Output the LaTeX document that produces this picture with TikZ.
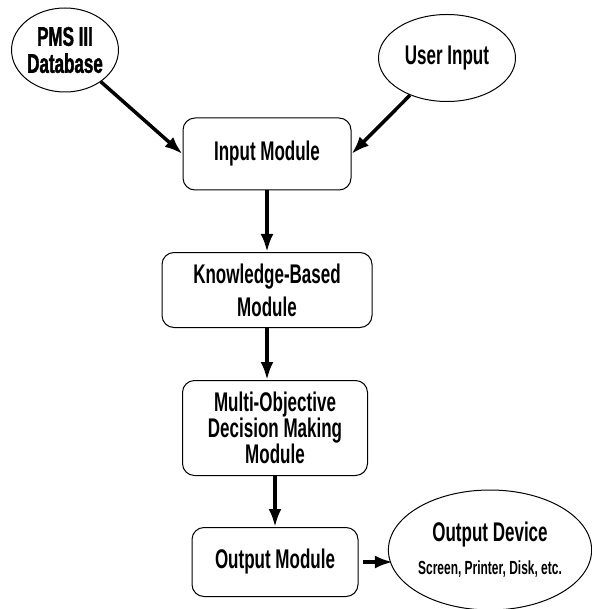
\documentclass[tikz,border=0pt]{standalone}
\usepackage{fontspec}
\setmainfont{Liberation Sans}[FakeStretch=0.63]
\usetikzlibrary{shapes.geometric,arrows.meta}

\tikzset{
 module/.style={draw, line width=1pt, rounded corners=12pt, align=center, inner sep=0pt,
   font=\bfseries\fontsize{27}{24}\selectfont},
 source/.style={draw, line width=1pt, ellipse, align=center, inner sep=0pt,
   font=\bfseries\fontsize{27}{27}\selectfont},
 flow/.style={line width=3.5pt, -{Latex[length=18pt,width=13pt]}}
}

\begin{document}
\begin{tikzpicture}[x=1pt,y=-1pt]
\useasboundingbox (0,0) rectangle (591,609);

\node[source, minimum width=106pt, minimum height=84pt] (pms) at (65,50)
  {\addfontfeature{FakeBold=1.5}PMS III\\\addfontfeature{FakeBold=1.5}Database};
\node[source, minimum width=137pt, minimum height=87pt] (user) at (447,58) {User Input};

\node[module, minimum width=168pt, minimum height=72pt] (input) at (267,154) {Input Module};
\node[module, minimum width=210pt, minimum height=75pt] (know) at (267,290) {Knowledge-Based\\[7pt]Module};
\node[module, minimum width=185pt, minimum height=95pt] (mcdm) at (275,428) {Multi-Objective\\Decision Making\\Module};
\node[module, minimum width=166pt, minimum height=69pt] (output) at (275,562) {Output Module};

\node[source, minimum width=195pt, minimum height=120pt] (device) at (490,550)
  {Output Device\\[6pt]{\fontsize{19}{18}\selectfont Screen, Printer, Disk, etc.}};

% arrows
\draw[flow] (pms) -- (input.west);
\draw[flow] (user) -- (input.east);
\draw[flow] (input) -- (know);
\draw[flow] (know.south) -- (know.south |- mcdm.north);
\draw[flow] (mcdm) -- (output);
\draw[flow, shorten <=4pt, shorten >=-5pt] (output.east) -- (output.east -| device.west);

\end{tikzpicture}
\end{document}
